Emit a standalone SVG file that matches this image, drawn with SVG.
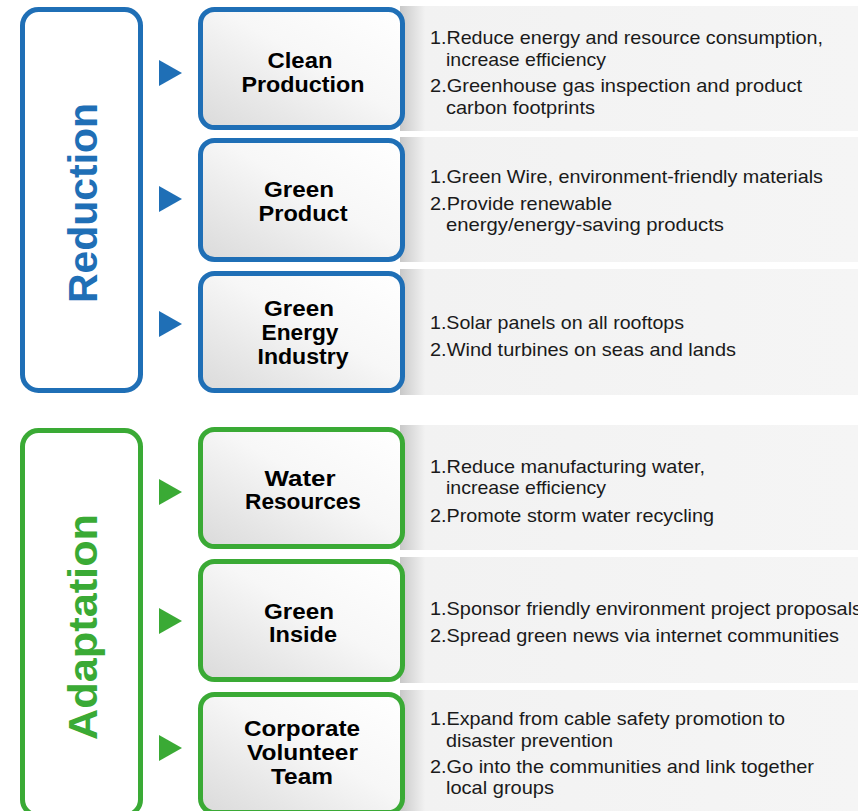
<svg xmlns="http://www.w3.org/2000/svg" width="858" height="811" viewBox="0 0 858 811">
<defs>
<linearGradient id="panel" x1="0" y1="0" x2="1" y2="0" gradientUnits="objectBoundingBox">
<stop offset="0" stop-color="#c8c8c8"/>
<stop offset="0.012" stop-color="#d2d2d2"/>
<stop offset="0.055" stop-color="#f2f2f2"/>
<stop offset="1" stop-color="#f5f5f5"/>
</linearGradient>
<linearGradient id="nodefill" x1="1" y1="0" x2="0" y2="1">
<stop offset="0" stop-color="#ffffff"/>
<stop offset="0.45" stop-color="#f7f7f7"/>
<stop offset="1" stop-color="#dadada"/>
</linearGradient>
<style>
.panel{fill:url(#panel);}
.blue{stroke:#1f6fb6;}
.green{stroke:#3aaa35;}
.node{fill:url(#nodefill);stroke-width:5;}
.cat{fill:#ffffff;stroke-width:5;}
.lbl{font-family:"Liberation Sans",Arial,sans-serif;font-weight:bold;font-size:22px;fill:#000;text-anchor:middle;}
.desc{font-family:"Liberation Sans",Arial,sans-serif;font-size:18.5px;fill:#1a1a1a;}
.cattxt{font-family:"Liberation Sans",Arial,sans-serif;font-weight:bold;font-size:40px;text-anchor:middle;}
.tb{fill:#1f6fb6;}
.tg{fill:#3aaa35;}
</style>
</defs>

<!-- background panels -->
<g id="panels">
<rect class="panel" x="400" y="6" width="458" height="125"/>
<rect class="panel" x="400" y="137" width="458" height="125"/>
<rect class="panel" x="400" y="269" width="458" height="126"/>
<rect class="panel" x="400" y="425" width="458" height="125"/>
<rect class="panel" x="400" y="557" width="458" height="126"/>
<rect class="panel" x="400" y="690" width="458" height="121"/>
</g>

<g id="reduction">
<rect class="cat blue" x="22.5" y="9.5" width="118" height="381" rx="16"/>
<text class="cattxt tb" transform="translate(97,203) rotate(-90)" textLength="200" lengthAdjust="spacingAndGlyphs">Reduction</text>
</g>

<g id="adaptation">
<rect class="cat green" x="22.5" y="430.5" width="118" height="385" rx="16"/>
<text class="cattxt tg" transform="translate(97,627) rotate(-90)" textLength="226" lengthAdjust="spacingAndGlyphs">Adaptation</text>
</g>

<g id="connectors">
<polygon class="tb" points="159,60 182,73 159,86"/>
<polygon class="tb" points="159,186 182,199 159,212"/>
<polygon class="tb" points="159,311 182,324 159,337"/>
<polygon class="tg" points="159,479 182,492 159,505"/>
<polygon class="tg" points="159,608 182,621 159,634"/>
<polygon class="tg" points="159,735 182,748 159,761"/>
</g>

<g id="clean-production">
<rect class="node blue" x="200.5" y="9.5" width="202" height="118" rx="14"/>
<text class="lbl" x="300" y="68" textLength="65" lengthAdjust="spacingAndGlyphs">Clean</text>
<text class="lbl" x="303" y="92" textLength="123" lengthAdjust="spacingAndGlyphs">Production</text>
<text class="desc" x="430" y="44" textLength="393" lengthAdjust="spacingAndGlyphs">1.Reduce energy and resource consumption,</text>
<text class="desc" x="446" y="66" textLength="160" lengthAdjust="spacingAndGlyphs">increase efficiency</text>
<text class="desc" x="430" y="92" textLength="372" lengthAdjust="spacingAndGlyphs">2.Greenhouse gas inspection and product</text>
<text class="desc" x="446" y="114" textLength="149" lengthAdjust="spacingAndGlyphs">carbon footprints</text>
</g>

<g id="green-product">
<rect class="node blue" x="200.5" y="140.5" width="202" height="119" rx="14"/>
<text class="lbl" x="299" y="197" textLength="70" lengthAdjust="spacingAndGlyphs">Green</text>
<text class="lbl" x="303" y="221" textLength="89" lengthAdjust="spacingAndGlyphs">Product</text>
<text class="desc" x="430" y="183" textLength="393" lengthAdjust="spacingAndGlyphs">1.Green Wire, environment-friendly materials</text>
<text class="desc" x="430" y="210" textLength="182" lengthAdjust="spacingAndGlyphs">2.Provide renewable</text>
<text class="desc" x="446" y="231" textLength="278" lengthAdjust="spacingAndGlyphs">energy/energy-saving products</text>
</g>

<g id="green-energy-industry">
<rect class="node blue" x="200.5" y="273.5" width="202" height="117" rx="14"/>
<text class="lbl" x="299" y="316" textLength="70" lengthAdjust="spacingAndGlyphs">Green</text>
<text class="lbl" x="300" y="340" textLength="77" lengthAdjust="spacingAndGlyphs">Energy</text>
<text class="lbl" x="303" y="364" textLength="91" lengthAdjust="spacingAndGlyphs">Industry</text>
<text class="desc" x="430" y="329" textLength="254" lengthAdjust="spacingAndGlyphs">1.Solar panels on all rooftops</text>
<text class="desc" x="430" y="356" textLength="306" lengthAdjust="spacingAndGlyphs">2.Wind turbines on seas and lands</text>
</g>

<g id="water-resources">
<rect class="node green" x="200.5" y="429.5" width="202" height="117" rx="14"/>
<text class="lbl" x="300" y="486" textLength="71" lengthAdjust="spacingAndGlyphs">Water</text>
<text class="lbl" x="303" y="509" textLength="116" lengthAdjust="spacingAndGlyphs">Resources</text>
<text class="desc" x="430" y="473" textLength="275" lengthAdjust="spacingAndGlyphs">1.Reduce manufacturing water,</text>
<text class="desc" x="446" y="494" textLength="160" lengthAdjust="spacingAndGlyphs">increase efficiency</text>
<text class="desc" x="430" y="522" textLength="284" lengthAdjust="spacingAndGlyphs">2.Promote storm water recycling</text>
</g>

<g id="green-inside">
<rect class="node green" x="200.5" y="561.5" width="202" height="118" rx="14"/>
<text class="lbl" x="299" y="619" textLength="70" lengthAdjust="spacingAndGlyphs">Green</text>
<text class="lbl" x="303" y="642" textLength="68" lengthAdjust="spacingAndGlyphs">Inside</text>
<text class="desc" x="430" y="615" textLength="432" lengthAdjust="spacingAndGlyphs">1.Sponsor friendly environment project proposals</text>
<text class="desc" x="430" y="642" textLength="409" lengthAdjust="spacingAndGlyphs">2.Spread green news via internet communities</text>
</g>

<g id="corporate-volunteer-team">
<rect class="node green" x="200.5" y="694.5" width="202" height="118" rx="14"/>
<text class="lbl" x="302" y="736" textLength="116" lengthAdjust="spacingAndGlyphs">Corporate</text>
<text class="lbl" x="302.5" y="760" textLength="111" lengthAdjust="spacingAndGlyphs">Volunteer</text>
<text class="lbl" x="302" y="784" textLength="62" lengthAdjust="spacingAndGlyphs">Team</text>
<text class="desc" x="430" y="725" textLength="355" lengthAdjust="spacingAndGlyphs">1.Expand from cable safety promotion to</text>
<text class="desc" x="446" y="747" textLength="167" lengthAdjust="spacingAndGlyphs">disaster prevention</text>
<text class="desc" x="430" y="773" textLength="384" lengthAdjust="spacingAndGlyphs">2.Go into the communities and link together</text>
<text class="desc" x="446" y="794" textLength="108" lengthAdjust="spacingAndGlyphs">local groups</text>
</g>
</svg>
